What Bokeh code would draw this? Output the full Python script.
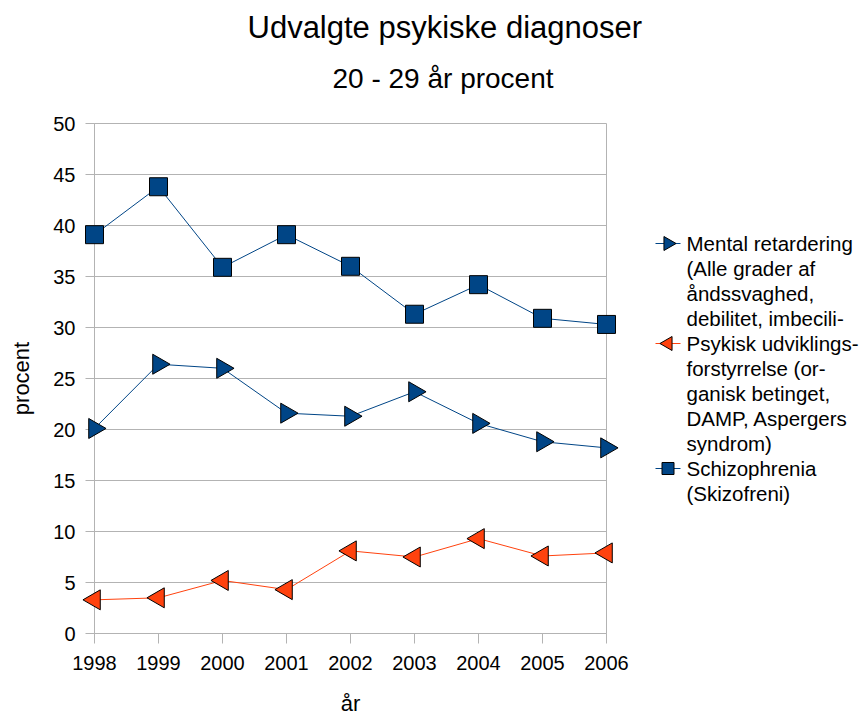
import math
from bokeh.plotting import figure
from bokeh.layouts import row
from bokeh.models import (Range1d, FixedTicker, SingleIntervalTicker, Title, ColumnDataSource)
from bokeh.core.properties import value
from bokeh.embed import file_html
from bokeh.resources import INLINE

years = [1998, 1999, 2000, 2001, 2002, 2003, 2004, 2005, 2006]
mental = [20.1, 26.4, 26.0, 21.6, 21.3, 23.7, 20.6, 18.8, 18.2]
psykisk = [3.3, 3.5, 5.2, 4.3, 8.1, 7.5, 9.3, 7.6, 7.9]
schizo = [39.1, 43.8, 35.9, 39.1, 36.0, 31.3, 34.2, 30.9, 30.3]

labels = [
    "Mental retardering\n(Alle grader af\nåndssvaghed,\ndebilitet, imbecili-",
    "Psykisk udviklings-\nforstyrrelse (or-\nganisk betinget,\nDAMP, Aspergers\nsyndrom)",
    "Schizophrenia\n(Skizofreni)",
]
title_text = "Udvalgte psykiske diagnoser"
subtitle_text = "20 - 29 år procent"
x_label = "år"
y_label = "procent"

NAVY = "#004586"
ORANGE = "#ff420e"
GRID = "#b3b3b3"
FONT = "Liberation Sans"

# layout (pixels)
FRAME_W, FRAME_H = 512, 510
BORDER_L, BORDER_T, BORDER_R, BORDER_B = 94, 123, 42, 80
LEG_W = 214
LEG_KEY_X0, LEG_KEY_X1 = 7, 32      # key line, from legend panel left
LEG_TEXT_X = 38
LEG_FIRST_Y = 243                   # first text line centre, page px from top
LEG_LINE_H = 25

p = figure(frame_width=FRAME_W, frame_height=FRAME_H,
           x_range=Range1d(years[0], years[-1]), y_range=Range1d(0, 50),
           output_backend="svg", toolbar_location=None,
           min_border_left=BORDER_L, min_border_right=BORDER_R,
           min_border_top=BORDER_T, min_border_bottom=BORDER_B)
p.outline_line_color = GRID
p.background_fill_color = "white"
p.border_fill_color = "white"

p.xgrid.grid_line_color = None
p.ygrid.grid_line_color = GRID
p.ygrid.ticker = SingleIntervalTicker(interval=5)

p.xaxis.ticker = FixedTicker(ticks=years)
p.yaxis.ticker = SingleIntervalTicker(interval=5)
for ax in (p.xaxis[0], p.yaxis[0]):
    ax.axis_line_color = GRID
    ax.major_tick_line_color = GRID
    ax.minor_tick_line_color = None
    ax.major_tick_in = 0
    ax.major_label_text_font = FONT
    ax.major_label_text_font_size = "20px"
    ax.major_label_text_color = "black"
    ax.axis_label_text_font = FONT
    ax.axis_label_text_font_size = "22px"
    ax.axis_label_text_font_style = "normal"
    ax.axis_label_text_color = "black"
p.xaxis.major_tick_out = 10
p.xaxis.major_label_standoff = 12
p.xaxis.axis_label = x_label
p.xaxis.axis_label_standoff = 18
p.yaxis.major_tick_out = 9
p.yaxis.major_label_standoff = 10
p.yaxis.axis_label = y_label
p.yaxis.axis_label_standoff = 16

series = [
    dict(y=mental, color=NAVY, marker="triangle", angle=-math.pi / 2, size=20, key_size=14),
    dict(y=psykisk, color=ORANGE, marker="triangle", angle=math.pi / 2, size=20, key_size=14),
    dict(y=schizo, color=NAVY, marker="square", angle=0.0, size=18, key_size=12),
]

for s in series:
    p.line(years, s["y"], color=s["color"], line_width=1)
    p.scatter(years, s["y"], marker=s["marker"], angle=s["angle"], size=s["size"],
              fill_color=s["color"], line_color="black", line_width=1, level="overlay")

# titles stacked above the frame (first added is closest to the frame)
p.add_layout(Title(text=" ", text_font_size="1px", standoff=27), "above")
p.add_layout(Title(text=subtitle_text, align="left", offset=238, standoff=0,
                   text_font=FONT, text_font_size="28px", text_font_style="normal",
                   text_color="black"), "above")
p.add_layout(Title(text=" ", text_font_size="1px", standoff=13), "above")
p.add_layout(Title(text=title_text, align="left", offset=153, standoff=0,
                   text_font=FONT, text_font_size="31px", text_font_style="normal",
                   text_color="black"), "above")

# legend panel: its frame is aligned with the main frame; y in page px from the top
lg = figure(frame_width=LEG_W, frame_height=FRAME_H,
            x_range=Range1d(0, LEG_W), y_range=Range1d(BORDER_T + FRAME_H, BORDER_T),
            x_axis_type=None, y_axis_type=None,
            output_backend="svg", toolbar_location=None,
            min_border_left=0, min_border_right=0, min_border_top=0, min_border_bottom=0)
lg.outline_line_color = None
lg.grid.grid_line_color = None
lg.background_fill_color = "white"
lg.border_fill_color = "white"

txt_x, txt_y, txt = [], [], []
line_idx = 0
for s, lab in zip(series, labels):
    ky = LEG_FIRST_Y + LEG_LINE_H * line_idx
    lg.line([LEG_KEY_X0, LEG_KEY_X1], [ky, ky], color=s["color"], line_width=1)
    lg.scatter([(LEG_KEY_X0 + LEG_KEY_X1) / 2], [ky], marker=s["marker"], angle=s["angle"],
               size=s["key_size"], fill_color=s["color"], line_color="black", line_width=1)
    for part in lab.split("\n"):
        txt_x.append(LEG_TEXT_X)
        txt_y.append(LEG_FIRST_Y + LEG_LINE_H * line_idx)
        txt.append(part)
        line_idx += 1

lg.text(x="x", y="y", text="t", source=ColumnDataSource(dict(x=txt_x, y=txt_y, t=txt)),
        text_font=value(FONT), text_font_size="20.5px", text_color="black",
        text_align="left", text_baseline="middle")

layout = row(p, lg, spacing=0)
open("out.html", "w").write(file_html(layout, INLINE))
